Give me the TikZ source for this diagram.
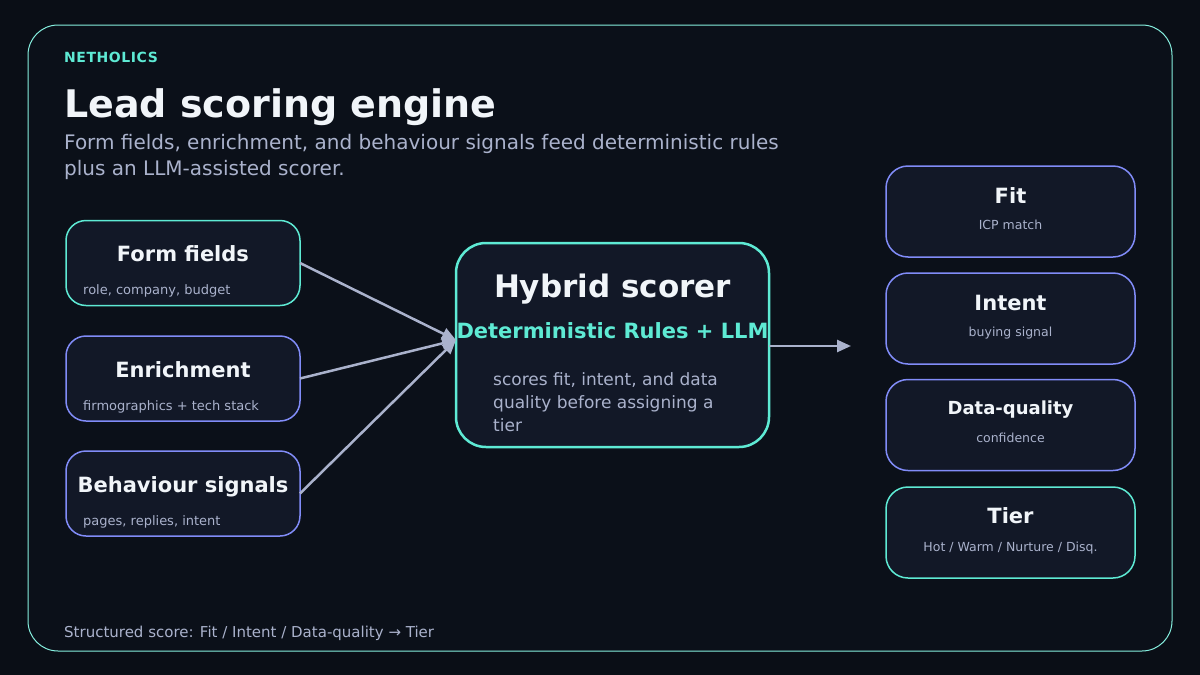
\documentclass[tikz,border=0pt]{standalone}
\usepackage{fontspec}
\setmainfont{DejaVu Sans}
\usepackage{xcolor}
\usepackage{tikz}
\usetikzlibrary{arrows.meta, positioning, calc}

\definecolor{bgdark}{HTML}{0A0E16}
\definecolor{panelbg}{HTML}{0B1019}
\definecolor{boxfill}{HTML}{121827}
\definecolor{tealc}{HTML}{5EEAD4}
\definecolor{indigoc}{HTML}{818CF8}
\definecolor{inkc}{HTML}{F1F5F9}
\definecolor{mutedc}{HTML}{AAB2CC}

\newcommand{\pxsize}[1]{\fontsize{#1}{#1}\selectfont}

\begin{document}
\begin{tikzpicture}[
  x=1pt, y=-1pt,
  inbox/.style={draw=indigoc, line width=1.5pt, rounded corners=20pt, fill=boxfill,
                minimum width=234pt, minimum height=85pt, outer sep=0pt},
  outbox/.style={inbox, rounded corners=22pt, minimum width=249pt, minimum height=91pt},
  hybbox/.style={inbox, draw=tealc, line width=2.5pt, rounded corners=30pt,
                 minimum width=313pt, minimum height=204pt},
  ttl/.style={anchor=base, inner sep=0pt, text=inkc, font=\pxsize{21}\bfseries},
  sub/.style={anchor=base west, inner sep=0pt, text=mutedc, font=\pxsize{13}},
  osub/.style={sub, anchor=base, font=\pxsize{12.5}},
  arr/.style={-{Triangle[length=14pt, width=12pt]}, draw=mutedc, line width=2.5pt}
]
  \useasboundingbox (0,0) rectangle (1200,675);
  \fill[bgdark] (0,0) rectangle (1200,675);

  % Frame
  \draw[tealc!75, line width=1pt, fill=panelbg, rounded corners=30pt]
    (28,25) rectangle (1172,651);

  % Header
  \node[anchor=base west, inner sep=0pt, text=tealc,
        font=\pxsize{14}\bfseries\addfontfeature{LetterSpace=4}] (brand) at (64,62) {NETHOLICS};
  \node[anchor=base west, inner sep=0pt, text=inkc, font=\pxsize{38}\bfseries] (title) at (64,117) {Lead scoring engine};
  % multi-line text: base is the last line
  \node[anchor=base west, inner sep=0pt, text=mutedc, font=\pxsize{20}, align=left] (lede) at (64,175)
    {Form fields, enrichment, and behaviour signals feed deterministic rules\\[6pt]plus an LLM-assisted scorer.};

  % Inputs
  \node[inbox, draw=tealc] (form) at (183,263) {};
  \node[inbox] (enrich) at (183,378.5) {};
  \node[inbox] (behav) at (183,493.5) {};

  \node[ttl] (formt) at ($(form.north)+(0,41)$) {Form fields};
  \node[sub] (forms) at ($(form.north west)+(17,74)$) {role, company, budget};
  \node[ttl] (enricht) at ($(enrich.north)+(0,41)$) {Enrichment};
  \node[sub] (enrichs) at ($(enrich.north west)+(17,74)$) {firmographics + tech stack};
  \node[ttl] (behavt) at ($(behav.north)+(0,41)$) {Behaviour signals};
  \node[sub] (behavs) at ($(behav.north west)+(17,74)$) {pages, replies, intent};

  % Scorer
  \node[hybbox] (hyb) at (612.5,345) {};
  \node[ttl, font=\pxsize{31}\bfseries] (hybt) at ($(hyb.north)+(0,54)$) {Hybrid scorer};
  \node[ttl, text=tealc] (hybr) at ($(hyb.north)+(0,95)$) {Deterministic Rules + LLM};
  \node[sub, font=\pxsize{17}, align=left] (hybs) at ($(hyb.north west)+(37,188)$)
    {scores fit, intent, and data\\[6pt]quality before assigning a\\[6pt]tier};

  % Outputs
  \node[outbox] (fit) at (1010.5,211.5) {};
  \node[outbox] (intent) at (1010.5,318.5) {};
  \node[outbox] (dq) at (1010.5,425) {};
  \node[outbox, draw=tealc] (tier) at (1010.5,532.5) {};

  \node[ttl] (fitt) at ($(fit.north)+(0,37)$) {Fit};
  \node[osub] (fits) at ($(fit.north)+(0,63.5)$) {ICP match};
  \node[ttl] (intentt) at ($(intent.north)+(0,37)$) {Intent};
  \node[osub] (intents) at ($(intent.north)+(0,63.5)$) {buying signal};
  \node[ttl, font=\pxsize{18}\bfseries] (dqt) at ($(dq.north)+(0,35)$) {Data-quality};
  \node[osub] (dqs) at ($(dq.north)+(0,63)$) {confidence};
  \node[ttl] (tiert) at ($(tier.north)+(0,36)$) {Tier};
  \node[osub] (tiers) at ($(tier.north)+(0,64)$) {Hot / Warm / Nurture / Disq.};

  % Footer
  \node[anchor=base west, inner sep=0pt, text=mutedc, font=\pxsize{15}] (foot) at (64,637)
    {Structured score: Fit / Intent / Data-quality → Tier};

  % wires
  \coordinate (hin) at ($(hyb.west)+(0,-5)$);
  \coordinate (hout) at ($(hyb.east)+(82,1)$);
  \draw[arr] (form.east) -- (hin);
  \draw[arr] (enrich.east) -- (hin);
  \draw[arr] (behav.east) -- (hin);
  \draw[arr] ($(hyb.east)+(0,1)$) -- (hout);
\end{tikzpicture}
\end{document}
